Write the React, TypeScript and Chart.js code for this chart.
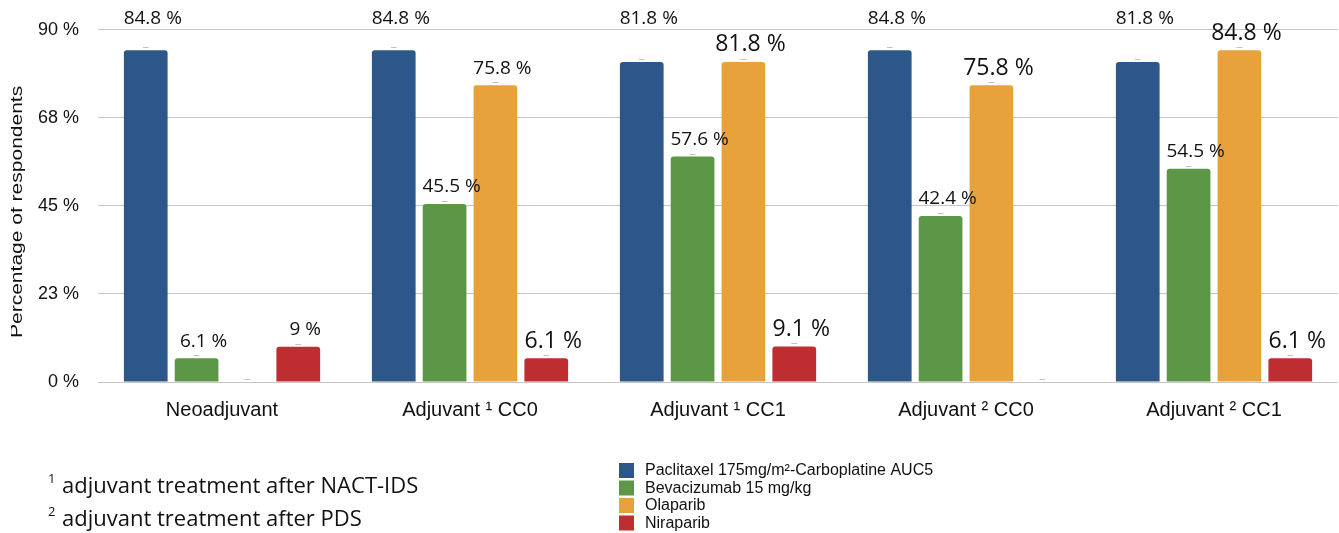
import React, { useEffect, useRef } from "react";
import { Chart, registerables } from "chart.js";

Chart.register(...registerables);

const CATEGORIES = ["Neoadjuvant", "Adjuvant ¹ CC0", "Adjuvant ¹ CC1", "Adjuvant ² CC0", "Adjuvant ² CC1"];
const SERIES_NAMES = [
  "Paclitaxel 175mg/m²-Carboplatine AUC5",
  "Bevacizumab 15 mg/kg",
  "Olaparib",
  "Niraparib",
];
const PACLITAXEL = [84.8, 84.8, 81.8, 84.8, 81.8];
const BEVACIZUMAB = [6.1, 45.5, 57.6, 42.4, 54.5];
const OLAPARIB = [0, 75.8, 81.8, 75.8, 84.8];
const NIRAPARIB = [9, 6.1, 9.1, 0, 6.1];
const Y_TICKS = [0, 22.5, 45, 67.5, 90];
const Y_TICK_LABELS = ["0 %", "23 %", "45 %", "68 %", "90 %"];
const Y_TITLE = "Percentage of respondents";
const FOOTNOTES = [
  ["1", "adjuvant treatment after NACT-IDS"],
  ["2", "adjuvant treatment after PDS"],
];

// styles
const COLORS = ["#2D5789", "#5C9748", "#E8A23C", "#BE2D30"];
const LARGE_LABEL = [
  [false, false, false, false, false],
  [false, false, false, false, false],
  [false, false, true, true, true],
  [false, true, true, false, true],
];

const ARIAL = "'Liberation Sans', Arial, sans-serif";
const OPEN = "'Open Sans', 'Noto Sans', sans-serif";

const overlayPlugin = {
  id: "overlay",
  afterDatasetsDraw(chart: any) {
    const ctx = chart.ctx;
    const top = chart.chartArea.top;
    chart.data.datasets.forEach((ds: any, i: number) => {
      const meta = chart.getDatasetMeta(i);
      meta.data.forEach((bar: any, j: number) => {
        const v = ds.data[j];
        ctx.save();
        ctx.strokeStyle = "#c4c4c4";
        ctx.lineWidth = 1;
        ctx.beginPath();
        ctx.moveTo(bar.x - 3, Math.round(bar.y) - 2.5);
        ctx.lineTo(bar.x + 3, Math.round(bar.y) - 2.5);
        ctx.stroke();
        if (v > 0) {
          const large = LARGE_LABEL[i][j];
          ctx.font = `${large ? 23 : 19}px ${OPEN}`;
          ctx.fillStyle = "#111";
          ctx.textAlign = "center";
          ctx.textBaseline = "middle";
          const y = i === 0 ? top - 11 : bar.y - 17;
          ctx.fillText(`${v} %`, bar.x + 7, y);
        }
        ctx.restore();
      });
    });
  },
  afterDraw(chart: any) {
    const ctx = chart.ctx;
    const ca = chart.chartArea;
    // y title (clipped at left like the reference)
    ctx.save();
    ctx.beginPath();
    ctx.rect(11, 0, 200, chart.height);
    ctx.clip();
    ctx.translate(22, (ca.top + ca.bottom) / 2 + 6);
    ctx.rotate(-Math.PI / 2);
    ctx.scale(1, 0.82);
    ctx.font = `21px ${ARIAL}`;
    ctx.fillStyle = "#111";
    ctx.textAlign = "center";
    ctx.textBaseline = "alphabetic";
    ctx.fillText(Y_TITLE, 0, 0);
    ctx.restore();

    // legend
    ctx.save();
    chart.data.datasets.forEach((ds: any, i: number) => {
      const y0 = 463 + i * 17.5;
      ctx.fillStyle = ds.backgroundColor;
      ctx.fillRect(619, y0, 15, 15);
      ctx.font = `16px ${ARIAL}`;
      ctx.fillStyle = "#111";
      ctx.textAlign = "left";
      ctx.textBaseline = "middle";
      ctx.fillText(ds.label, 645, y0 + 8);
    });
    ctx.restore();

    // footnotes
    ctx.save();
    ctx.fillStyle = "#111";
    ctx.textAlign = "left";
    ctx.textBaseline = "alphabetic";
    FOOTNOTES.forEach((fn, k) => {
      const base = 493 + k * 33;
      ctx.font = `13px ${OPEN}`;
      ctx.fillText(fn[0], 48, base - 10);
      ctx.font = `22px ${OPEN}`;
      ctx.fillText(fn[1], 62, base);
    });
    ctx.restore();
  },
};

export default function App() {
  const ref = useRef<HTMLCanvasElement>(null);
  useEffect(() => {
    if (!ref.current) return;
    const values = [PACLITAXEL, BEVACIZUMAB, OLAPARIB, NIRAPARIB];
    const chart = new Chart(ref.current, {
      type: "bar",
      data: {
        labels: CATEGORIES,
        datasets: values.map((d, i) => ({
          label: SERIES_NAMES[i],
          data: d,
          backgroundColor: COLORS[i],
          borderRadius: 3,
          borderSkipped: "start",
          categoryPercentage: 0.82,
          barPercentage: 0.86,
        })),
      },
      options: {
        animation: false,
        responsive: false,
        layout: { padding: { top: 29, right: 1, left: 0, bottom: 0 } },
        plugins: { legend: { display: false }, tooltip: { enabled: false } },
        scales: {
          x: {
            grid: { display: false },
            border: { display: false },
            ticks: {
              font: { family: ARIAL, size: 20 },
              color: "#111",
              padding: 8,
              maxRotation: 0,
            },
            afterFit(scale: any) {
              scale.height = 151;
            },
          },
          y: {
            min: 0,
            max: 90,
            border: { display: false },
            grid: { color: "#c6c6c6", lineWidth: 1, drawTicks: false },
            afterBuildTicks(scale: any) {
              scale.ticks = Y_TICKS.map((v) => ({ value: v }));
            },
            ticks: {
              font: { family: ARIAL, size: 18 },
              color: "#111",
              padding: 19,
              callback: (v: any) => Y_TICK_LABELS[Y_TICKS.indexOf(Number(v))] ?? "",
            },
            afterFit(scale: any) {
              scale.width = 98;
            },
          },
        },
      },
      plugins: [overlayPlugin],
    });
    return () => chart.destroy();
  }, []);
  return (
    <div style={{ position: "fixed", left: 0, top: 0, width: 1339, height: 533, overflow: "hidden", background: "#fff" }}>
      <canvas ref={ref} width={1339} height={533} />
    </div>
  );
}
